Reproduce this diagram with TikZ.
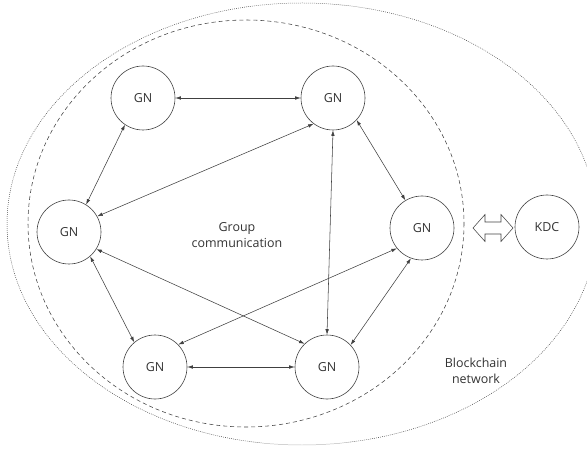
\documentclass[tikz,border=0pt]{standalone}
\usepackage{fontspec}
\setmainfont{Open Sans}
\usetikzlibrary{arrows.meta,calc}
\definecolor{ink}{RGB}{64,64,64}
\definecolor{txt}{RGB}{51,51,51}
\begin{document}
\begin{tikzpicture}[x=1bp,y=-1bp,
  gn/.style={circle,draw=ink,line width=0.6pt,minimum size=64bp,inner sep=0pt,
    text=txt,font=\fontsize{12.5}{15}\selectfont},
  link/.style={draw=ink,line width=0.55pt,
    {Latex[length=5.5pt,width=3.6pt]}-{Latex[length=5.5pt,width=3.6pt]}},
  lbl/.style={text=txt,align=center,font=\fontsize{12.5}{15.5}\selectfont}]
\useasboundingbox (0,0) rectangle (587,449);
\clip (0,0) rectangle (587,449);

% blockchain network and group boundaries
\draw[ink,line width=0.5pt,dash pattern=on 0.8bp off 1.2bp] (302,224) ellipse [x radius=295,y radius=221];
\draw[ink,line width=0.55pt,dash pattern=on 4bp off 3bp] (246,223.5) ellipse [x radius=218,y radius=203.5];

% group nodes and key distribution centre
\node[gn] (tl)  at (143,98)  {GN};
\node[gn] (tr)  at (333,98)  {GN};
\node[gn] (l)   at (69,232)  {GN};
\node[gn] (r)   at (422,228) {GN};
\node[gn] (bl)  at (155,367) {GN};
\node[gn] (br)  at (327,367) {GN};
\node[gn] (kdc) at (547,227) {KDC};

% pairwise links inside the group
\draw[link] (tl.east) -- (tr.west);
\draw[link] (bl.east) -- (br.west);
\draw[link] (tl.236) -- (l.58);
\draw[link] (tr.233) -- (l.29);
\draw[link] (tr.317) -- (r.121);
\draw[link] (tr.270) -- (br.90);
\draw[link] (l.-32) -- (br.134);
\draw[link] (l.-49) -- (bl.130);
\draw[link] (r.219) -- (bl.44);
\draw[link] (r.250) -- (br.43);

% hollow double arrow between group and KDC
\coordinate (da) at (493,228);
\draw[ink,line width=0.55pt,line join=miter]
  ($(da)+(-20,0)$) -- ++(12,-13.5) -- ++(0,7.5) -- ++(16,0) -- ++(0,-7.5)
  -- ($(da)+(20,0)$) -- ++(-12,13.5) -- ++(0,-7.5) -- ++(-16,0) -- ++(0,7.5) -- cycle;

% captions
\node[lbl] (grp) at (237,235) {Group\\communication};
\node[lbl] (bcn) at (476,371) {Blockchain\\network};
\end{tikzpicture}
\end{document}
